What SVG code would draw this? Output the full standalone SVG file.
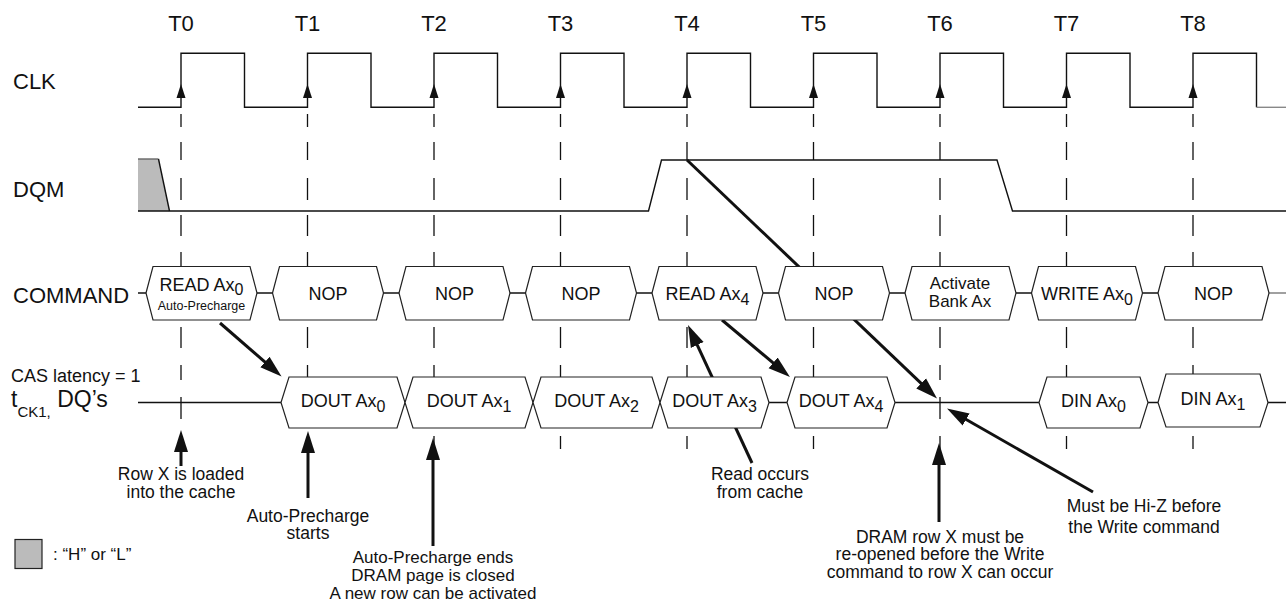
<svg xmlns="http://www.w3.org/2000/svg" xmlns:xlink="http://www.w3.org/1999/xlink" width="1286" height="603" viewBox="0 0 1286 603">
<style>
.wave{fill:none;stroke:#111;stroke-width:1.4}
.dash{fill:none;stroke:#111;stroke-width:1.3}
.box{fill:#fff;stroke:#222;stroke-width:1.2}
.arrow{fill:none;stroke:#111;stroke-width:3;marker-end:url(#ah)}
text{font-family:"Liberation Sans",Arial,Helvetica,sans-serif;fill:#111}
.lbl{font-size:22px}
.tl{font-size:22px;text-anchor:middle}
.bt{font-size:18px;text-anchor:middle}
.sm{font-size:12.5px;text-anchor:middle}
.sub{font-size:16px}
.ann{font-size:17.5px;text-anchor:middle}
</style>
<defs>
<marker id="ah" markerUnits="userSpaceOnUse" markerWidth="24" markerHeight="16" refX="12" refY="8" orient="auto">
<path d="M0,1 L22,8 L0,15 z" fill="#111"/>
</marker>
<path id="dl" class="dash" d="M0,114 V127 M0,142 V160 M0,178 V200 M0,215 V236 M0,252 V266 M0,327 V348 M0,365 V380 M0,397 V419 M0,436 V449"/>
<path id="ck" d="M0,84 L-4.5,98 L4.5,98 z" fill="#111"/>
</defs>

<g id="timelines">
<use xlink:href="#dl" x="181"/>
<use xlink:href="#dl" x="307.5"/>
<use xlink:href="#dl" x="434"/>
<use xlink:href="#dl" x="560.5"/>
<use xlink:href="#dl" x="687"/>
<use xlink:href="#dl" x="813.5"/>
<use xlink:href="#dl" x="940"/>
<use xlink:href="#dl" x="1066.5"/>
<use xlink:href="#dl" x="1193"/>
</g>

<g id="time-labels">
<text class="tl" x="181" y="31">T0</text>
<text class="tl" x="307.5" y="31">T1</text>
<text class="tl" x="434" y="31">T2</text>
<text class="tl" x="560.5" y="31">T3</text>
<text class="tl" x="687" y="31">T4</text>
<text class="tl" x="813.5" y="31">T5</text>
<text class="tl" x="940" y="31">T6</text>
<text class="tl" x="1066.5" y="31">T7</text>
<text class="tl" x="1193" y="31">T8</text>
</g>

<g id="signal-labels">
<text class="lbl" x="13" y="89">CLK</text>
<text class="lbl" x="13" y="197">DQM</text>
<text class="lbl" x="13" y="303">COMMAND</text>
<text x="11" y="382" style="font-size:18px">CAS latency = 1</text>
<text x="11" y="407" style="font-size:23px">t<tspan style="font-size:15px" dy="10">CK1,</tspan><tspan dy="-10"> DQ’s</tspan></text>
</g>

<g id="clk">
<path class="wave" d="M138,107.3 H181 V53.3 H244.5 V107.3 H307.5 V53.3 H371 V107.3 H434 V53.3 H497.5 V107.3 H560.5 V53.3 H624 V107.3 H687 V53.3 H750.5 V107.3 H813.5 V53.3 H877 V107.3 H940 V53.3 H1003.5 V107.3 H1066.5 V53.3 H1130 V107.3 H1193 V53.3 H1256.5 V107.3"/>
<path d="M1256.5,107.3 H1286" stroke="#888" stroke-width="1.4" fill="none"/>
<use xlink:href="#ck" x="181"/>
<use xlink:href="#ck" x="307.5"/>
<use xlink:href="#ck" x="434"/>
<use xlink:href="#ck" x="560.5"/>
<use xlink:href="#ck" x="687"/>
<use xlink:href="#ck" x="813.5"/>
<use xlink:href="#ck" x="940"/>
<use xlink:href="#ck" x="1066.5"/>
<use xlink:href="#ck" x="1193"/>
</g>

<g id="dqm">
<polygon points="138,159 158.5,159 169.5,211 138,211" fill="#bbb"/>
<path d="M138,159 H158.5" stroke="#666" stroke-width="1.4" fill="none"/>
<path d="M158.5,159 L169.5,211" stroke="#111" stroke-width="1.4" fill="none"/>
<path class="wave" d="M138,211 H648.5 L661.5,160 H997 L1012.5,211 H1286"/>
</g>

<g id="connectors">
<path class="arrow" d="M220,323 L274,369.9"/>
<path class="arrow" d="M752,463 L692.2,334.1"/>
<path class="arrow" d="M722,320 L782.3,370.6"/>
<path class="arrow" d="M687,160 L929.8,391.6"/>
<path class="arrow" d="M1093,492 L955.7,413.5"/>
<path class="arrow" d="M181,466 V440"/>
<path class="arrow" d="M308,498 V441"/>
<path class="arrow" d="M433,546 V448"/>
<path class="arrow" d="M939,522 V453"/>
</g>

<g id="command-bus">
<path class="wave" d="M138,293 H1269"/>
<path d="M1269,293 H1286" stroke="#777" stroke-width="1.4" fill="none"/>
</g>
<g id="cmd-read-ax0">
<polygon class="box" points="146,293 153,266.5 250,266.5 257,293 250,320 153,320"/>
<text class="bt" x="201.5" y="290.5">READ Ax<tspan class="sub" dy="4">0</tspan></text>
<text class="sm" x="201.5" y="309.5">Auto-Precharge</text>
</g>
<g id="cmd-nop-1">
<polygon class="box" points="272.5,293 279.5,266.5 376.5,266.5 383.5,293 376.5,320 279.5,320"/>
<text class="bt" x="328" y="300">NOP</text>
</g>
<g id="cmd-nop-2">
<polygon class="box" points="399,293 406,266.5 503,266.5 510,293 503,320 406,320"/>
<text class="bt" x="454.5" y="300">NOP</text>
</g>
<g id="cmd-nop-3">
<polygon class="box" points="525.5,293 532.5,266.5 629.5,266.5 636.5,293 629.5,320 532.5,320"/>
<text class="bt" x="581" y="300">NOP</text>
</g>
<g id="cmd-read-ax4">
<polygon class="box" points="652,293 659,266.5 756,266.5 763,293 756,320 659,320"/>
<text class="bt" x="707.5" y="300">READ Ax<tspan class="sub" dy="5">4</tspan></text>
</g>
<g id="cmd-nop-5">
<polygon class="box" points="778.5,293 785.5,266.5 882.5,266.5 889.5,293 882.5,320 785.5,320"/>
<text class="bt" x="834" y="300">NOP</text>
</g>
<g id="cmd-activate">
<polygon class="box" points="905,293 912,266.5 1009,266.5 1016,293 1009,320 912,320"/>
<text class="bt" x="960" y="289" style="font-size:17px">Activate</text>
<text class="bt" x="960" y="306.5" style="font-size:17px">Bank Ax</text>
</g>
<g id="cmd-write-ax0">
<polygon class="box" points="1031.5,293 1038.5,266.5 1135.5,266.5 1142.5,293 1135.5,320 1038.5,320"/>
<text class="bt" x="1087" y="300">WRITE Ax<tspan class="sub" dy="5">0</tspan></text>
</g>
<g id="cmd-nop-8">
<polygon class="box" points="1158,293 1165,266.5 1262,266.5 1269,293 1262,320 1165,320"/>
<text class="bt" x="1213.5" y="300">NOP</text>
</g>

<g id="dq-bus">
<path class="wave" d="M138,402.5 H1286"/>
</g>
<g id="dout-ax0">
<polygon class="box" points="281,402.5 289,377 397,377 405,402.5 397,428 289,428"/>
<text class="bt" x="343" y="407">DOUT Ax<tspan class="sub" dy="5">0</tspan></text>
</g>
<g id="dout-ax1">
<polygon class="box" points="405,402.5 413,377 525,377 533,402.5 525,428 413,428"/>
<text class="bt" x="469" y="407">DOUT Ax<tspan class="sub" dy="5">1</tspan></text>
</g>
<g id="dout-ax2">
<polygon class="box" points="533,402.5 541,377 652,377 660,402.5 652,428 541,428"/>
<text class="bt" x="596.5" y="407">DOUT Ax<tspan class="sub" dy="5">2</tspan></text>
</g>
<g id="dout-ax3">
<polygon class="box" points="660,402.5 668,377 761,377 769,402.5 761,428 668,428"/>
<text class="bt" x="714.5" y="407">DOUT Ax<tspan class="sub" dy="5">3</tspan></text>
</g>
<g id="dout-ax4">
<polygon class="box" points="787,402.5 795,377 887,377 895,402.5 887,428 795,428"/>
<text class="bt" x="841" y="407">DOUT Ax<tspan class="sub" dy="5">4</tspan></text>
</g>
<g id="din-ax0">
<polygon class="box" points="1039,402.5 1047,377 1140,377 1148,402.5 1140,428 1047,428"/>
<text class="bt" x="1093.5" y="407">DIN Ax<tspan class="sub" dy="5">0</tspan></text>
</g>
<g id="din-ax1">
<polygon class="box" points="1158,402.5 1166,374 1260,374 1268,402.5 1260,427 1166,427"/>
<text class="bt" x="1213" y="405">DIN Ax<tspan class="sub" dy="5">1</tspan></text>
</g>

<g id="note-row-x">
<text class="ann" x="181" y="480">Row X is loaded</text>
<text class="ann" x="181" y="497.5">into the cache</text>
</g>
<g id="note-ap-starts">
<text class="ann" x="308" y="521.5">Auto-Precharge</text>
<text class="ann" x="308" y="539">starts</text>
</g>
<g id="note-ap-ends">
<text class="ann" x="433" y="562.5" style="font-size:17px">Auto-Precharge ends</text>
<text class="ann" x="433" y="580.5" style="font-size:17px">DRAM page is closed</text>
<text class="ann" x="433" y="599" style="font-size:17px">A new row can be activated</text>
</g>
<g id="note-read-cache">
<text class="ann" x="760" y="480">Read occurs</text>
<text class="ann" x="760" y="497.5">from cache</text>
</g>
<g id="note-dram-row">
<text class="ann" x="940" y="542.5">DRAM row X must be</text>
<text class="ann" x="940" y="560">re-opened before the Write</text>
<text class="ann" x="940" y="578">command to row X can occur</text>
</g>
<g id="note-hiz">
<text class="ann" x="1144" y="512">Must be Hi-Z before</text>
<text class="ann" x="1144" y="533">the Write command</text>
</g>
<g id="legend">
<rect x="15" y="539.5" width="27" height="29" fill="#bbb" stroke="#222" stroke-width="1.2"/>
<text x="53" y="560" style="font-size:17px">: “H” or “L”</text>
</g>
</svg>
